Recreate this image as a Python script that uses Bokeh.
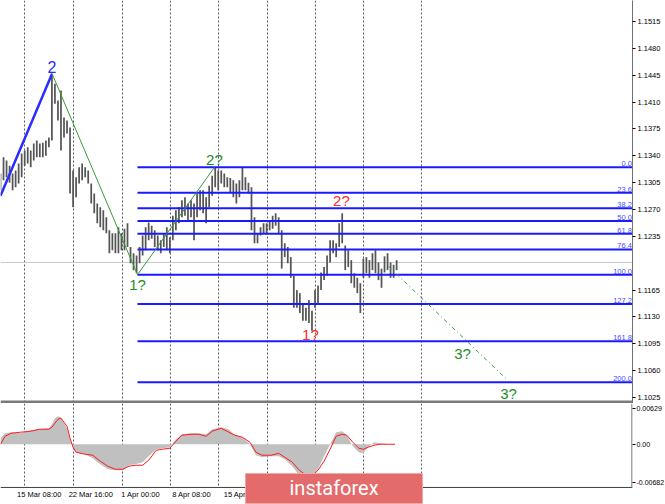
from bokeh.plotting import figure
from bokeh.layouts import column
from bokeh.models import (Range1d, FixedTicker, Span, BoxAnnotation, Label,
                          PrintfTickFormatter, ColumnDataSource)
from bokeh.core.properties import value
from bokeh.embed import file_html
from bokeh.resources import INLINE

# ---------------- data ----------------
bar_index = list(range(0, 264, 2))
bar_high = [
    1.1317, 1.1338, 1.1334, 1.1327, 1.1317, 1.1321, 1.1330, 1.1343, 1.1347, 1.1351,
    1.1347, 1.1356, 1.1360, 1.1356, 1.1357, 1.1360, 1.1364, 1.1447, 1.1434, 1.1412,
    1.1425, 1.1390, 1.1386, 1.1377, 1.1321, 1.1312, 1.1325, 1.1330, 1.1325, 1.1321,
    1.1304, 1.1291, 1.1278, 1.1273, 1.1269, 1.1260, 1.1243, 1.1239, 1.1239, 1.1247,
    1.1239, 1.1245, 1.1252, 1.1221, 1.1213, 1.1210, 1.1221, 1.1236, 1.1247, 1.1253,
    1.1249, 1.1243, 1.1236, 1.1230, 1.1239, 1.1247, 1.1234, 1.1262, 1.1269, 1.1273,
    1.1282, 1.1286, 1.1278, 1.1282, 1.1278, 1.1291, 1.1295, 1.1295, 1.1286, 1.1301,
    1.1314, 1.1325, 1.1321, 1.1321, 1.1317, 1.1312, 1.1311, 1.1308, 1.1304, 1.1308,
    1.1325, 1.1312, 1.1305, 1.1299, 1.1260, 1.1239, 1.1247, 1.1252, 1.1252, 1.1256,
    1.1262, 1.1265, 1.1260, 1.1243, 1.1226, 1.1221, 1.1208, 1.1184, 1.1165, 1.1161,
    1.1148, 1.1142, 1.1152, 1.1138, 1.1165, 1.1171, 1.1188, 1.1195, 1.1210, 1.1230,
    1.1230, 1.1226, 1.1252, 1.1265, 1.1223, 1.1217, 1.1204, 1.1187, 1.1181, 1.1174,
    1.1206, 1.1208, 1.1204, 1.1213, 1.1217, 1.1201, 1.1193, 1.1209, 1.1213, 1.1201,
    1.1198, 1.1204]
bar_low = [
    1.1295, 1.1308, 1.1312, 1.1305, 1.1295, 1.1299, 1.1304, 1.1312, 1.1327, 1.1330,
    1.1325, 1.1334, 1.1338, 1.1338, 1.1338, 1.1340, 1.1351, 1.1360, 1.1408, 1.1386,
    1.1347, 1.1364, 1.1369, 1.1291, 1.1273, 1.1286, 1.1304, 1.1308, 1.1312, 1.1304,
    1.1278, 1.1265, 1.1252, 1.1247, 1.1243, 1.1239, 1.1213, 1.1217, 1.1213, 1.1213,
    1.1217, 1.1217, 1.1221, 1.1200, 1.1191, 1.1187, 1.1200, 1.1210, 1.1217, 1.1230,
    1.1232, 1.1221, 1.1217, 1.1213, 1.1221, 1.1217, 1.1213, 1.1230, 1.1243, 1.1252,
    1.1260, 1.1262, 1.1256, 1.1260, 1.1230, 1.1260, 1.1269, 1.1265, 1.1252, 1.1273,
    1.1288, 1.1299, 1.1295, 1.1304, 1.1299, 1.1299, 1.1292, 1.1286, 1.1278, 1.1286,
    1.1295, 1.1295, 1.1291, 1.1243, 1.1226, 1.1226, 1.1236, 1.1239, 1.1239, 1.1243,
    1.1245, 1.1249, 1.1239, 1.1193, 1.1208, 1.1200, 1.1181, 1.1142, 1.1142, 1.1135,
    1.1125, 1.1125, 1.1122, 1.1112, 1.1142, 1.1148, 1.1165, 1.1178, 1.1184, 1.1201,
    1.1213, 1.1208, 1.1221, 1.1226, 1.1191, 1.1195, 1.1174, 1.1168, 1.1161, 1.1135,
    1.1181, 1.1187, 1.1181, 1.1191, 1.1187, 1.1178, 1.1168, 1.1188, 1.1191, 1.1181,
    1.1181, 1.1191]

last_price = 1.1201
fib_high = 1.1325
fib_low = 1.1185
fib_start = 90.6
fib_ratios = [0.0, 23.6, 38.2, 50.0, 61.8, 76.4, 100.0, 127.2, 161.8, 200.0]
fib_labels = ["0.0", "23.6", "38.2", "50.0", "61.8", "76.4", "100.0", "127.2", "161.8", "200.0"]

wave_blue_x = [0.0, 34.1]
wave_blue_y = [1.1288, 1.1447]
wave_green_x = [34.1, 90.6, 141.5]
wave_green_y = [1.1447, 1.1185, 1.1325]
wave_proj_x = [256.6, 334.7]
wave_proj_y = [1.1196, 1.1049]

wave_text = ["2", "2?", "1?", "2?", "1?", "3?", "3?"]
wave_text_x = [34.1, 141.5, 90.6, 225.5, 205.0, 305.6, 336.0]
wave_text_y = [1.1456, 1.1335, 1.1172, 1.1282, 1.1107, 1.1083, 1.1030]
wave_text_color = ["#2b2bff", "#1f8c1f", "#1f8c1f", "#ff2a2a", "#ff2a2a", "#1f8c1f", "#1f8c1f"]
wave_text_size = ["16px", "15px", "15px", "15px", "15px", "15px", "15px"]

price_ticks = [1.1025, 1.1060, 1.1095, 1.1130, 1.1165, 1.1235, 1.1270,
               1.1305, 1.1340, 1.1375, 1.1410, 1.1445, 1.1480, 1.1515]
grid_bars = [15.9, 48.3, 80.7, 112.4, 144.2, 176.6, 208.3, 240.1, 278.4]
time_label_bars = [25.6, 59.7, 92.7, 126.4, 161.9]
time_labels = ["15 Mar 08:00", "22 Mar 16:00", "1 Apr 00:00", "8 Apr 08:00", "15 Apr 16:00"]

macd_x = [0, 3, 7, 13, 20, 26, 32, 34, 36, 38, 40, 41, 44, 46, 48, 50, 56, 61, 66, 71,
          76, 81, 85, 89, 94, 98, 103, 107, 112, 116, 120, 126, 131, 136, 140, 146, 151,
          155, 160, 165, 169, 173, 179, 184, 188, 193, 197, 202, 206, 210, 214, 218, 222,
          226, 229, 233, 237, 240, 243, 247, 251, 257, 261]
macd_main = [0.00107, 0.00196, 0.00214, 0.00196, 0.00250, 0.00268, 0.00285, 0.00357,
             0.00464, 0.00500, 0.00482, 0.00428, 0.00285, 0.00089, -0.00071, -0.00143,
             -0.00178, -0.00250, -0.00357, -0.00446, -0.00464, -0.00464, -0.00375, -0.00357,
             -0.00321, -0.00214, -0.00089, -0.00071, -0.00054, 0.00089, 0.00178, 0.00196,
             0.00196, 0.00178, 0.00268, 0.00303, 0.00268, 0.00161, 0.00125, 0.0, -0.00196,
             -0.00232, -0.00214, -0.00214, -0.00268, -0.00392, -0.00535, -0.00624, -0.00607,
             -0.00446, -0.00214, 0.0, 0.00214, 0.00232, 0.00161, -0.00036, -0.00143,
             -0.00161, -0.00054, 0.00036, 0.00018, 0.0, 0.0]
macd_signal = [0.0, 0.00143, 0.00196, 0.00214, 0.00232, 0.00268, 0.00268, 0.00303,
               0.00375, 0.00446, 0.00464, 0.00428, 0.00321, 0.00107, -0.00054, -0.00143,
               -0.00178, -0.00196, -0.00303, -0.00392, -0.00446, -0.00446, -0.00392, -0.00375,
               -0.00375, -0.00285, -0.00107, -0.00089, -0.00071, 0.00054, 0.00161, 0.00178,
               0.00178, 0.00143, 0.00232, 0.00285, 0.00214, 0.00161, 0.00125, 0.00036,
               -0.00143, -0.00196, -0.00196, -0.00161, -0.00232, -0.00321, -0.00446, -0.00553,
               -0.00571, -0.00464, -0.00303, -0.00089, 0.00143, 0.00178, 0.00161, 0.00036,
               -0.00071, -0.00089, -0.00054, -0.00018, 0.0, 0.0, 0.0]
macd_ticks = [0.00629, 0.0, -0.00682]
macd_tick_labels = ["0.00629", "0.00", "-0.00682"]

# ---------------- figures ----------------
FONT = "Liberation Sans"
X_END = 418
x_range = Range1d(0, X_END)

main = figure(frame_width=632, frame_height=403, x_range=x_range,
              y_range=Range1d(1.10172, 1.15424),
              x_axis_location=None, y_axis_location="right",
              output_backend="svg", toolbar_location=None,
              min_border_left=0, min_border_right=33, min_border_top=0, min_border_bottom=0)
main.outline_line_color = None
main.xgrid.visible = False
main.ygrid.visible = False

ax = main.yaxis[0]
ax.ticker = FixedTicker(ticks=price_ticks)
ax.formatter = PrintfTickFormatter(format="%.4f")
ax.major_label_text_font = FONT
ax.major_label_text_font_size = "7.5px"
ax.major_label_text_color = "black"
ax.axis_line_color = "#707070"
ax.major_tick_line_color = "black"
ax.major_tick_out = 3
ax.major_tick_in = 0
ax.minor_tick_line_color = None
ax.major_label_standoff = 2

for g in grid_bars:
    main.add_layout(Span(location=g, dimension="height", line_color="#555555",
                         line_dash="2 2", line_width=1, level="underlay"))
main.add_layout(Span(location=last_price, dimension="width", line_color="#c8c8c8",
                     line_width=1, level="underlay"))

main.vbar(x=bar_index, top=bar_high, bottom=bar_low, width=1.15,
          fill_color="#555555", line_color=None)

fib_levels = [fib_high - r / 100.0 * (fib_high - fib_low) for r in fib_ratios]
main.segment(x0=fib_start, x1=X_END + 2, y0=fib_levels, y1=fib_levels,
             line_color="#1a1aff", line_width=2)
main.text(x=X_END - 0.4, y=fib_levels, text=fib_labels, text_align="right",
          text_baseline="bottom", y_offset=-1, text_font=value(FONT),
          text_font_size="7.5px", text_color="#4a4aff")

main.line(wave_blue_x, wave_blue_y, line_color="#2b2bff", line_width=2.5)
main.line(wave_green_x, wave_green_y, line_color="#3a9a3a", line_width=1)
main.line(wave_proj_x, wave_proj_y, line_color="#3a9a3a", line_width=1, line_dash="4 3 1 3")

wsrc = ColumnDataSource(dict(x=wave_text_x, y=wave_text_y, t=wave_text,
                             c=wave_text_color, s=wave_text_size))
main.text(x="x", y="y", text="t", text_color="c", text_font_size="s", source=wsrc,
          text_align="center", text_baseline="middle", text_font=value(FONT))

main.add_layout(BoxAnnotation(top=1.10211, fill_color="#7a7a7a", fill_alpha=1.0,
                              line_color=None))
main.add_layout(Label(x=430.2, y=last_price, text="1.1201", text_align="center",
                      text_baseline="middle", text_color="white", text_font=FONT,
                      text_font_size="7.5px", background_fill_color="black", padding=2))

# MACD panel: frame runs to the bottom of the page, time labels drawn inside it
MACD_TOP = 0.00727
MACD_AXIS = -0.00771
macd = figure(frame_width=632, frame_height=101, x_range=x_range,
              y_range=Range1d(-0.01075, MACD_TOP), y_axis_location="right",
              x_axis_location=None,
              output_backend="svg", toolbar_location=None,
              min_border_left=0, min_border_right=33, min_border_top=0, min_border_bottom=0)
macd.outline_line_color = None
macd.xgrid.visible = False
macd.ygrid.visible = False

macd.segment(x0=grid_bars, x1=grid_bars, y0=MACD_TOP, y1=MACD_AXIS,
             line_color="#555555", line_dash="2 2", line_width=1)

macd.varea(x=macd_x, y1=0, y2=macd_main, fill_color="#c0c0c0")
macd.line(macd_x, macd_signal, line_color="#ff1a1a", line_width=1)

# axis lines of the MACD window
macd.segment(x0=0, x1=X_END, y0=MACD_AXIS, y1=MACD_AXIS, line_color="#404040", line_width=1)
macd.segment(x0=X_END - 0.35, x1=X_END - 0.35, y0=MACD_TOP, y1=MACD_AXIS,
             line_color="#707070", line_width=1.2)

macd.text(x=time_label_bars, y=MACD_AXIS, text=time_labels, text_align="center",
          text_baseline="top", y_offset=3, text_font=value(FONT),
          text_font_size="7.5px", text_color="black")

ya = macd.yaxis[0]
ya.ticker = FixedTicker(ticks=macd_ticks)
ya.major_label_overrides = {t: l for t, l in zip(macd_ticks, macd_tick_labels)}
ya.major_label_text_font = FONT
ya.major_label_text_font_size = "7px"
ya.major_label_text_color = "black"
ya.axis_line_color = None
ya.major_tick_line_color = "black"
ya.major_tick_out = 3
ya.major_tick_in = 0
ya.minor_tick_line_color = None
ya.major_label_standoff = 1

# instaforex badge
macd.quad(left=[162.0], right=[279.1], top=[-0.00522], bottom=[-0.01057],
          fill_color="#e36b6b", line_color="#f0a8a8", line_width=1)
macd.text(x=[220.6], y=[-0.00789], text=["instaforex"], text_align="center",
          text_baseline="middle", text_color="white", text_font=value("Roboto"),
          text_font_size="20px")

layout = column(main, macd, spacing=0,
                styles={"position": "absolute", "left": "0px", "top": "0px"})

open("out.html", "w").write(file_html(layout, INLINE))
